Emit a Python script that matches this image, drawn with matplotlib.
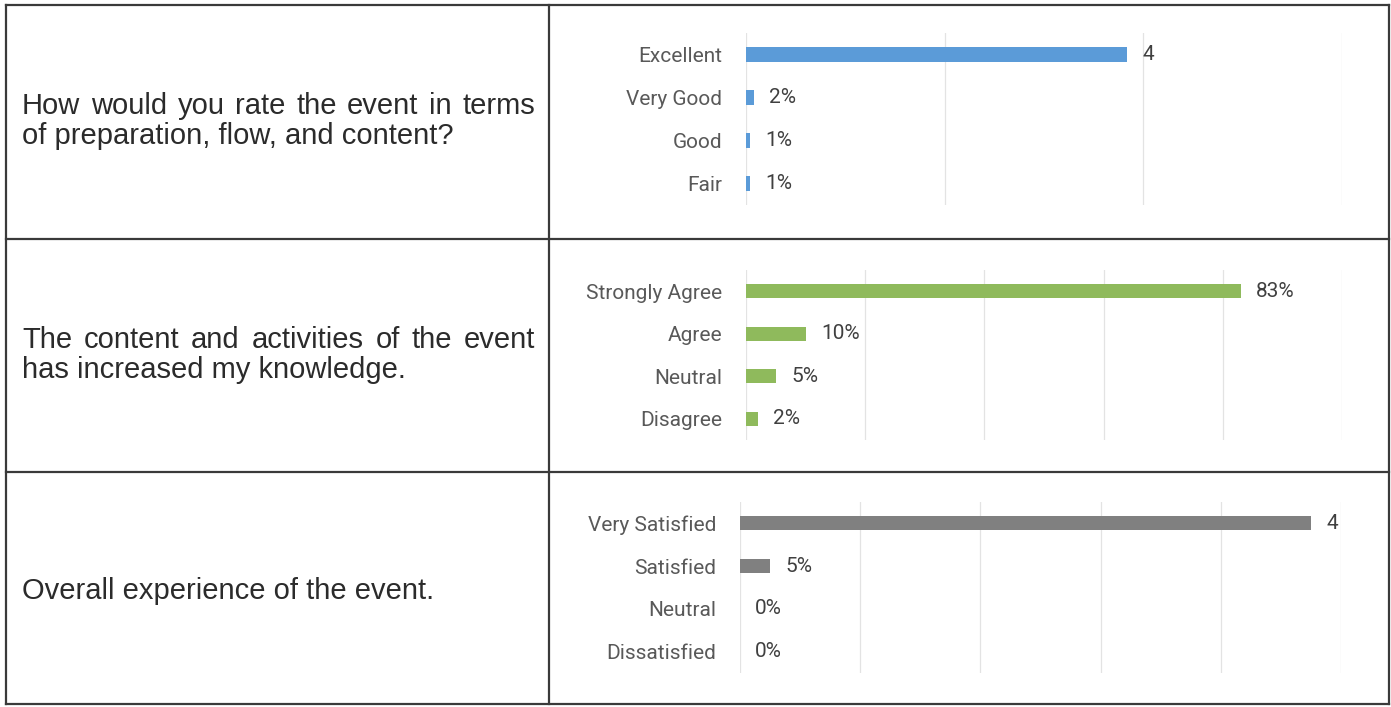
#Event feedback survey - three questions, bar chart per question in a table


import matplotlib.pyplot as plt
from matplotlib.lines import Line2D
from matplotlib.ticker import MultipleLocator

#data read from the survey summary
question_lines = [
    ["How would you rate the event in terms", "of preparation, flow, and content?"],
    ["The content and activities of the event", "has increased my knowledge."],
    ["Overall experience of the event."],
]

rating_labels = ["Excellent", "Very Good", "Good", "Fair"]
rating_values = [0.96, 0.02, 0.01, 0.01]
rating_text = ["4", "2%", "1%", "1%"]

knowledge_labels = ["Strongly Agree", "Agree", "Neutral", "Disagree"]
knowledge_values = [0.83, 0.10, 0.05, 0.02]
knowledge_text = ["83%", "10%", "5%", "2%"]

overall_labels = ["Very Satisfied", "Satisfied", "Neutral", "Dissatisfied"]
overall_values = [0.95, 0.05, 0.0, 0.0]
overall_text = ["4", "5%", "0%", "0%"]

W, H = 1391, 707
fig = plt.figure(figsize=(W / 100, H / 100), dpi=100)
fig.patch.set_facecolor("white")
renderer = fig.canvas.get_renderer()

def fx(x):
    return x / W

def fy(y):
    return 1 - y / H

#table lines
border = "#3a3a3a"
for x in [6, 549, 1389]:
    fig.add_artist(Line2D([fx(x), fx(x)], [fy(5), fy(704)], color=border, lw=1.6))
for y in [5, 239, 472, 704]:
    fig.add_artist(Line2D([fx(6), fx(1389)], [fy(y), fy(y)], color=border, lw=1.6))

#question text on the left, first line of a wrapped paragraph is justified
q_style = dict(fontsize=21, family=["Liberation Sans", "DejaVu Sans"], color="#2b2b2b",
               va="center", ha="left")
left, right = 22, 535
line_y = [[106, 136], [340, 370], [591]]
for lines, ys in zip(question_lines, line_y):
    for i, (line, y) in enumerate(zip(lines, ys)):
        if i == len(lines) - 1:
            fig.text(fx(left), fy(y), line, **q_style)
            continue
        words = line.split()
        arts = [fig.text(0, fy(y), w, **q_style) for w in words]
        widths = [a.get_window_extent(renderer).width for a in arts]
        gap = (right - left - sum(widths)) / (len(words) - 1)
        x = left
        for a, w in zip(arts, widths):
            a.set_x(fx(x))
            x += w + gap

#(labels, values, text, colour, x left px, x right px, y top px, y bottom px, xmax, step)
panels = [
    (rating_labels, rating_values, rating_text, "#5b9bd8", 746, 1342, 33, 205, 1.5, 0.5),
    (knowledge_labels, knowledge_values, knowledge_text, "#8fba5c", 746, 1342, 270, 440, 1.0, 0.2),
    (overall_labels, overall_values, overall_text, "#808080", 740, 1341, 502, 673, 1.0, 0.2),
]

label_font = ["Liberation Sans Narrow", "Roboto", "DejaVu Sans"]

for labels, values, texts, colour, x0, x1, y0, y1, xmax, step in panels:
    ax = fig.add_axes([fx(x0), fy(y1), (x1 - x0) / W, (y1 - y0) / H])
    ax.set_facecolor("none")
    pos = range(len(labels))
    ax.barh(pos, values, height=0.33, color=colour, zorder=3)
    ax.set_xlim(0, xmax)
    ax.set_ylim(len(labels) - 0.5, -0.5)
    ax.xaxis.set_major_locator(MultipleLocator(step))
    ax.grid(axis="x", color="#e3e3e3", lw=0.9, zorder=0)
    ax.set_xticklabels([])
    ax.tick_params(axis="x", length=0)
    ax.tick_params(axis="y", length=0, pad=17)
    ax.set_yticks(list(pos))
    ax.set_yticklabels(labels, fontsize=15, color="#595959", family=label_font)
    for s in ax.spines.values():
        s.set_visible(False)
    for p, v, t in zip(pos, values, texts):
        ax.annotate(t, (v, p), xytext=(11, 0), textcoords="offset points",
                    va="center", ha="left", fontsize=15, color="#404040",
                    family=label_font)

plt.savefig("out.png", dpi=100)
